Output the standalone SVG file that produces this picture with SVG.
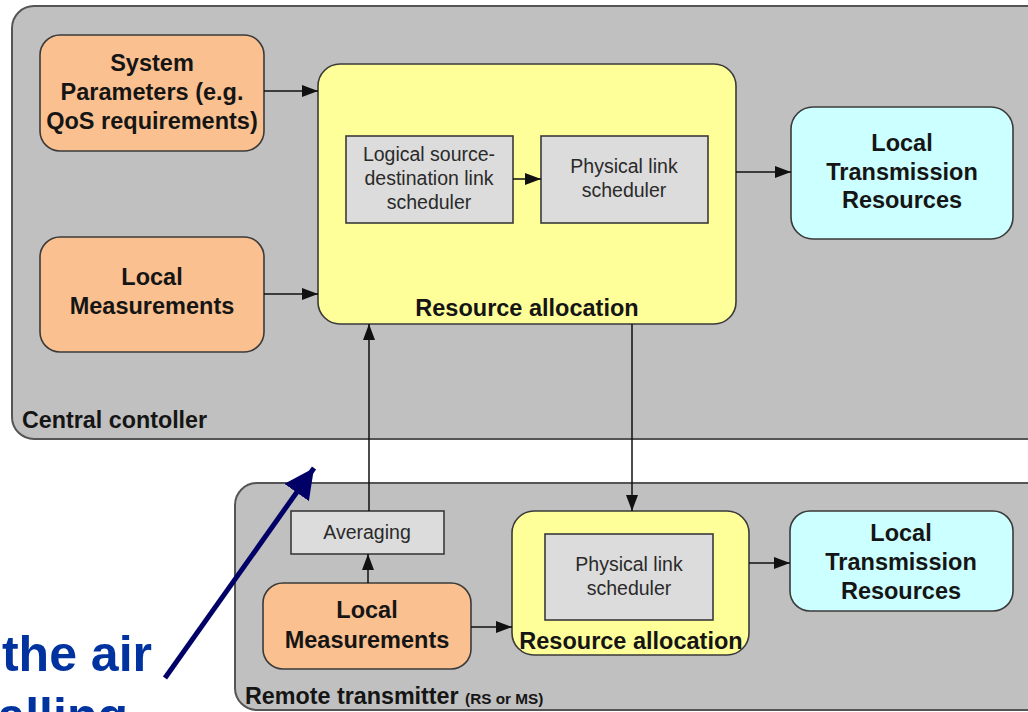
<svg xmlns="http://www.w3.org/2000/svg" width="1028" height="712" viewBox="0 0 1028 712">
<style>
.cont{fill:#c0c0c0;stroke:#555;stroke-width:2}
.orange{fill:#fac08f;stroke:#3a3a3a;stroke-width:1.6}
.yellow{fill:#ffff99;stroke:#3a3a3a;stroke-width:1.6}
.cyan{fill:#ccffff;stroke:#3a3a3a;stroke-width:1.6}
.inner{fill:#dcdcdc;stroke:#3a3a3a;stroke-width:1.6}
.b{font-family:"Liberation Sans",Arial,sans-serif;font-weight:bold;font-size:23.5px;fill:#151515;text-anchor:middle}
.r{font-family:"Liberation Sans",Arial,sans-serif;font-size:19.5px;fill:#2a2a2a;text-anchor:middle}
.lbl{font-family:"Liberation Sans",Arial,sans-serif;font-weight:bold;font-size:23.3px;fill:#151515}
.blue{font-family:"Liberation Sans",Arial,sans-serif;font-weight:bold;font-size:50px;fill:#0033a0;text-anchor:end}
.con{stroke:#111;stroke-width:1.5;fill:none;marker-end:url(#ah)}
</style>
<defs>
<marker id="ah" viewBox="0 0 16 12" refX="16" refY="6" markerWidth="16" markerHeight="12" markerUnits="userSpaceOnUse" orient="auto">
<path d="M0,0 L16,6 L0,12 z" fill="#111"/>
</marker>
<marker id="bh" viewBox="0 0 30 30" refX="30" refY="15" markerWidth="30" markerHeight="30" markerUnits="userSpaceOnUse" orient="auto">
<path d="M0,0 L30,15 L0,30 z" fill="#000066"/>
</marker>
</defs>
<rect width="1028" height="712" fill="#fff"/>
<g id="central">
<rect class="cont" x="12" y="6" width="1040" height="433" rx="22"/>
<text class="lbl" x="22" y="428">Central contoller</text>
</g>
<g id="remote">
<rect class="cont" x="235" y="483" width="820" height="227" rx="22"/>
<text class="lbl" x="245" y="704">Remote transmitter <tspan font-size="15.3px">(RS or MS)</tspan></text>
</g>
<g id="sysparams">
<rect class="orange" x="40" y="35" width="224" height="116" rx="20"/>
<text class="b" x="152" y="71">System</text>
<text class="b" x="152" y="100">Parameters (e.g.</text>
<text class="b" x="152" y="129">QoS requirements)</text>
</g>
<g id="localmeas1">
<rect class="orange" x="40" y="237" width="224" height="115" rx="20"/>
<text class="b" x="152" y="285">Local</text>
<text class="b" x="152" y="314">Measurements</text>
</g>
<g id="resalloc1">
<rect class="yellow" x="318" y="64" width="418" height="260" rx="22"/>
<text class="b" x="527" y="316">Resource allocation</text>
</g>
<g id="logical">
<rect class="inner" x="346" y="136" width="167" height="87"/>
<text class="r" x="429" y="161">Logical source-</text>
<text class="r" x="429" y="185">destination link</text>
<text class="r" x="429" y="209">scheduler</text>
</g>
<g id="physical1">
<rect class="inner" x="541" y="136" width="167" height="87"/>
<text class="r" x="624" y="173">Physical link</text>
<text class="r" x="624" y="197">scheduler</text>
</g>
<g id="ltr1">
<rect class="cyan" x="791" y="107" width="222" height="132" rx="22"/>
<text class="b" x="902" y="151">Local</text>
<text class="b" x="902" y="180">Transmission</text>
<text class="b" x="902" y="208">Resources</text>
</g>
<g id="averaging">
<rect class="inner" x="291" y="511" width="153" height="43"/>
<text class="r" x="367" y="539">Averaging</text>
</g>
<g id="localmeas2">
<rect class="orange" x="263" y="583" width="208" height="86" rx="20"/>
<text class="b" x="367" y="618">Local</text>
<text class="b" x="367" y="648">Measurements</text>
</g>
<g id="resalloc2">
<rect class="yellow" x="512" y="511" width="237" height="144" rx="22"/>
<text class="b" x="631" y="649">Resource allocation</text>
</g>
<g id="physical2">
<rect class="inner" x="545" y="534" width="168" height="86"/>
<text class="r" x="629" y="571">Physical link</text>
<text class="r" x="629" y="595">scheduler</text>
</g>
<g id="ltr2">
<rect class="cyan" x="790" y="511" width="223" height="100" rx="20"/>
<text class="b" x="901" y="541">Local</text>
<text class="b" x="901" y="570">Transmission</text>
<text class="b" x="901" y="599">Resources</text>
</g>
<g id="connectors">
<line class="con" x1="264" y1="91" x2="318" y2="91"/>
<line class="con" x1="264" y1="294" x2="318" y2="294"/>
<line class="con" x1="513" y1="179" x2="541" y2="179"/>
<line class="con" x1="736" y1="172" x2="791" y2="172"/>
<line class="con" x1="369" y1="511" x2="369" y2="324"/>
<line class="con" x1="632" y1="324" x2="632" y2="511"/>
<line class="con" x1="368" y1="583" x2="368" y2="554"/>
<line class="con" x1="471" y1="627" x2="512" y2="627"/>
<line class="con" x1="749" y1="563" x2="790" y2="563"/>
<line x1="165" y1="678" x2="314" y2="468" stroke="#000066" stroke-width="5" marker-end="url(#bh)"/>
</g>
<g id="callout">
<text class="blue" x="152" y="671">the air</text>
<text class="blue" x="128" y="733">alling</text>
</g>
</svg>
